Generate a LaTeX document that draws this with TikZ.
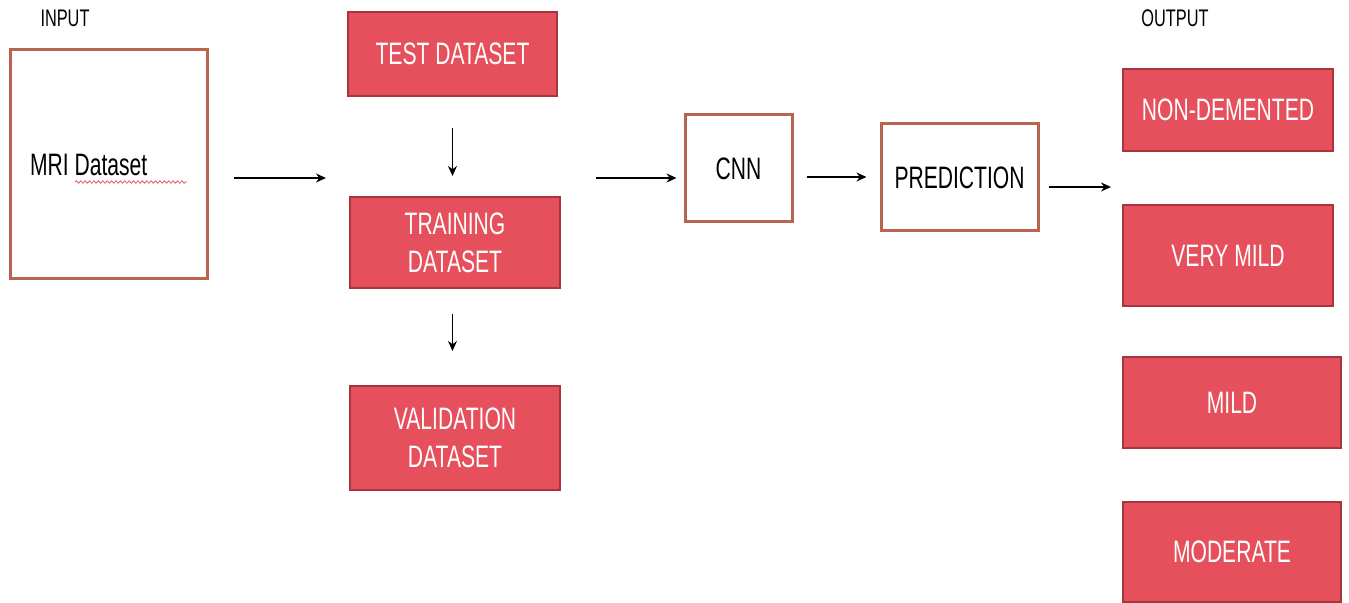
\documentclass[tikz,border=0pt]{standalone}
\usepackage{fontspec}
\setmainfont{Liberation Sans}[FakeStretch=0.68]
\usetikzlibrary{arrows.meta,decorations.pathmorphing}
\definecolor{boxred}{RGB}{230,80,92}
\definecolor{boxredline}{RGB}{168,52,62}
\definecolor{framebrown}{RGB}{184,100,80}
\definecolor{squiggle}{RGB}{235,90,100}
\tikzset{
  redbox/.style={draw=boxredline, fill=boxred, line width=1pt, text=white, inner sep=0pt, align=center,
    font=\fontsize{15.5pt}{19pt}\selectfont},
  whitebox/.style={draw=framebrown, fill=white, line width=1.5pt, text=black, inner sep=0pt, align=center,
    font=\fontsize{15.5pt}{19pt}\selectfont},
  lbl/.style={inner sep=0pt, font=\fontsize{12pt}{14pt}\selectfont},
  arr/.style={draw=black, line width=0.7pt, -{Stealth[length=5pt,width=4.5pt]}}
}
\begin{document}
\begin{tikzpicture}[x=0.5pt,y=-0.5pt]
\useasboundingbox (0,0) rectangle (1349,603);
\fill[white] (0,0) rectangle (1349,603);
% labels
\node[lbl] (input) at (65,18) {INPUT};
\node[lbl] (output) at (1175,18) {OUTPUT};
% input box
\node[whitebox, minimum width=98.5pt, minimum height=114.5pt, text width=78.5pt, inner xsep=10pt, align=left] (mri) at (108.5,164.5) {MRI\hspace{3pt}Dataset};
\draw[squiggle, line width=0.4pt, decorate, decoration={snake, amplitude=0.6pt, segment length=2.2pt}] (75,182) -- (187,182);
% dataset boxes
\node[redbox, minimum width=104.5pt, minimum height=42pt] (test) at (452.5,54) {TEST DATASET};
\node[redbox, minimum width=105pt, minimum height=45.5pt] (train) at (455,242.5) {TRAINING\\DATASET};
\node[redbox, minimum width=105pt, minimum height=52pt] (valid) at (455,438) {VALIDATION\\DATASET};
% model boxes
\node[whitebox, minimum width=53.5pt, minimum height=53.5pt] (cnn) at (738.5,168.5) {CNN};
\node[whitebox, minimum width=78.5pt, minimum height=53.5pt] (pred) at (959.5,177.5) {PREDICTION};
% outputs
\node[redbox, minimum width=105pt, minimum height=41pt] (nond) at (1228,110) {NON-DEMENTED};
\node[redbox, minimum width=105pt, minimum height=50.5pt] (vmild) at (1228,255.5) {VERY MILD};
\node[redbox, minimum width=109pt, minimum height=45.5pt] (mild) at (1232,402.5) {MILD};
\node[redbox, minimum width=109pt, minimum height=50pt] (moder) at (1232,552) {MODERATE};
% connector rows
\coordinate (r1) at (0,178);
\coordinate (r2) at (0,177);
\coordinate (r3) at (0,187);
\draw[arr, shorten <=12.5pt, shorten >=11.5pt] (mri.east |- r1) -- (train.west |- r1);
\draw[arr, shorten <=15.5pt, shorten >=10pt] (test.south) -- (test.south |- train.north);
\draw[arr, shorten <=12.5pt, shorten >=17pt] (test.south |- train.south) -- (test.south |- valid.north);
\draw[arr, shorten <=17.5pt, shorten >=3.5pt] (train.east |- r1) -- (cnn.west |- r1);
\draw[arr, shorten <=6.5pt, shorten >=6.5pt] (cnn.east |- r2) -- (pred.west |- r2);
\draw[arr, shorten <=4.5pt, shorten >=5.5pt] (pred.east |- r3) -- (nond.west |- r3);
\end{tikzpicture}
\end{document}
